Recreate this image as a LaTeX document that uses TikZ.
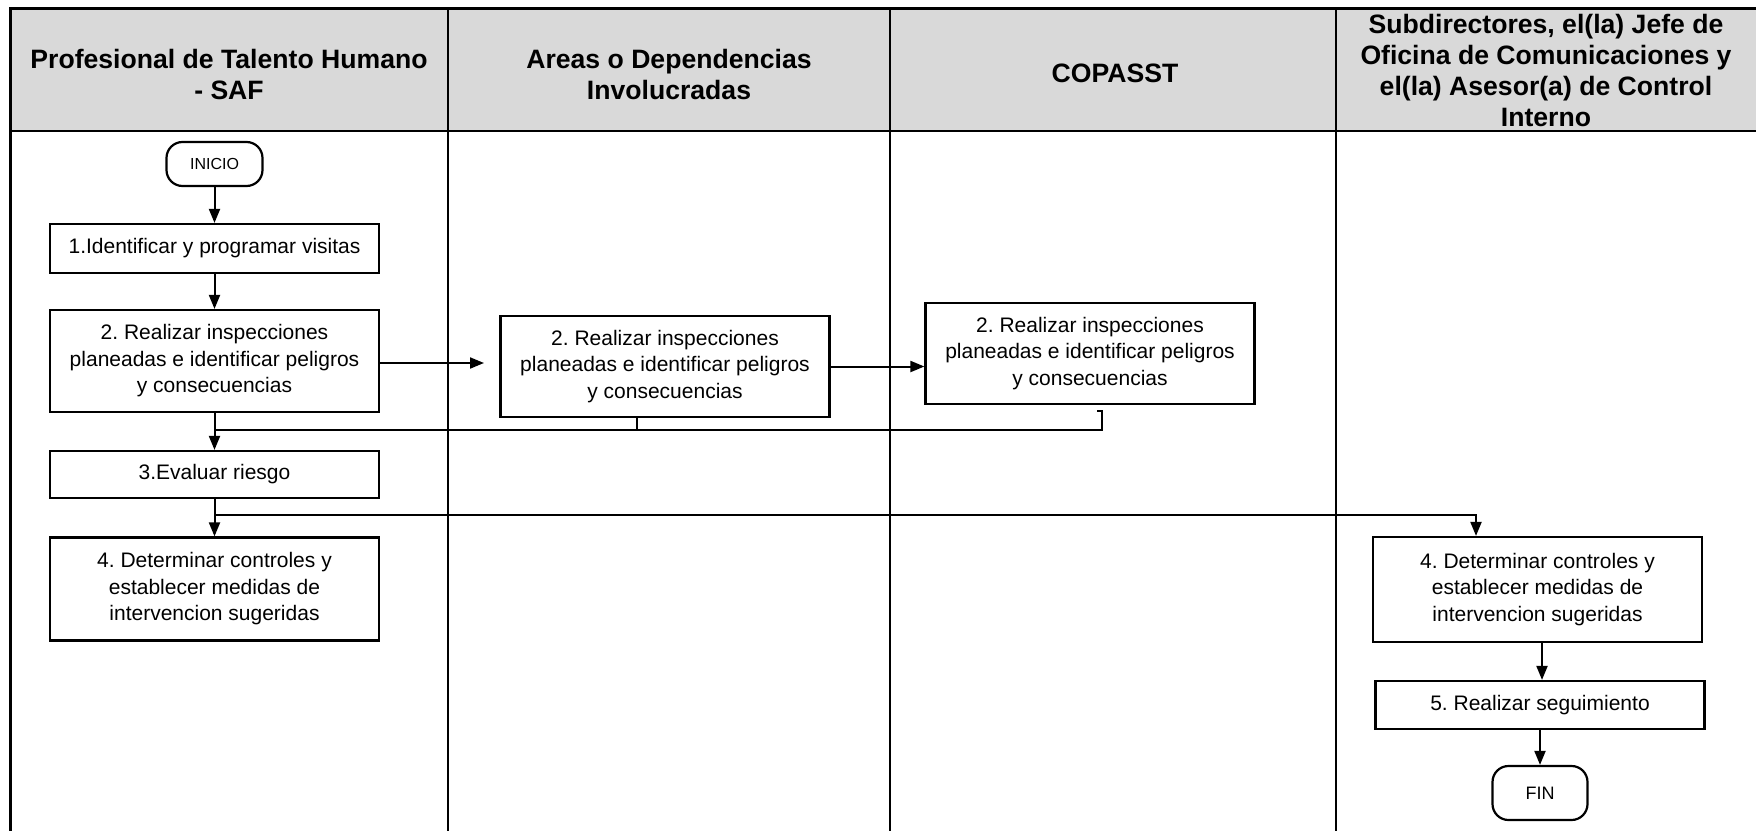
\documentclass[tikz,border=0pt]{standalone}
\usepackage{fontspec}
\setmainfont{Liberation Sans}
\usetikzlibrary{arrows.meta}
\newcommand\hdrfnt{\bfseries\fontsize{26.6}{31}\selectfont}
\newcommand\boxfnt{\fontsize{21}{26.5}\selectfont}
\definecolor{hdrgray}{RGB}{217,217,217}
\frenchspacing
\begin{document}
\begin{tikzpicture}[x=1pt,y=-1pt,
  lane/.style={line width=2.5pt},
  hdr/.style={align=center,font=\hdrfnt,inner sep=0pt},
  proc/.style={draw=black,line width=2.2pt,fill=white,minimum width=329pt,align=center,inner sep=0pt,font=\boxfnt},
  term/.style={draw=black,line width=2.2pt,fill=white,rounded corners=16pt,inner sep=0pt},
  conn/.style={line width=2pt,-{Triangle[length=14pt,width=11pt]}},
  wire/.style={line width=2pt}]
\useasboundingbox (0,0) rectangle (1756,830);
\clip (0,0) rectangle (1756,830);
% header and lanes
\fill[hdrgray] (10,8) rectangle (1780,131);
\draw[line width=3pt] (10,850) -- (10,8) -- (1780,8);
\draw[lane] (10,131) -- (1780,131);
\draw[lane] (448,8) -- (448,850);
\draw[lane] (890,8) -- (890,850);
\draw[lane] (1336,8) -- (1336,850);
\node[hdr] (h1) at (229,74) {Profesional de Talento Humano\\- SAF};
\node[hdr] (h2) at (669,74) {Areas o Dependencias\\Involucradas};
\node[hdr] (h3) at (1115,73) {COPASST};
\node[hdr] (h4) at (1546,70) {Subdirectores, el(la) Jefe de\\Oficina de Comunicaciones y\\el(la) Asesor(a) de Control\\Interno};
% nodes
\node[term,minimum width=96pt,minimum height=44pt,font=\fontsize{16}{18}\selectfont] (inicio) at (214.5,164) {INICIO};
\node[proc,minimum height=49pt] (n1) at (214.5,248.5) {1.Identificar y programar visitas};
\node[proc,minimum height=102pt] (n2a) at (214.5,361) {2. Realizar inspecciones\\planeadas e identificar peligros\\y consecuencias};
\node[proc,minimum height=101pt] (n2b) at (665,366.5) {2. Realizar inspecciones\\planeadas e identificar peligros\\y consecuencias};
\node[proc,minimum height=101pt] (n2c) at (1090,353.5) {2. Realizar inspecciones\\planeadas e identificar peligros\\y consecuencias};
\node[proc,minimum height=47pt] (n3) at (214.5,474.5) {3.Evaluar riesgo};
\node[proc,minimum height=103pt] (n4a) at (214.5,589) {4. Determinar controles y\\establecer medidas de\\intervencion sugeridas};
\node[proc,minimum height=105pt] (n4b) at (1537.5,589.5) {4. Determinar controles y\\establecer medidas de\\intervencion sugeridas};
\node[proc,minimum height=48pt] (n5) at (1540,705) {5. Realizar seguimiento};
\node[term,minimum width=95pt,minimum height=54pt,font=\fontsize{18}{20}\selectfont] (fin) at (1540,793) {FIN};
% connectors
\draw[conn] (inicio) -- (n1);
\draw[conn] (n1) -- (n2a);
\draw[conn] (n2a) -- (n3);
\draw[conn] (n3) -- (n4a);
\coordinate (a2tip) at (484,363);
\draw[conn] (n2a.east |- a2tip) -- (a2tip);
\draw[conn] (n2b.east) -- (n2b.east -| n2c.west);
\coordinate (b2) at (637,430);
\coordinate (tk) at (1097,411);
\coordinate (bk) at (1102,430);
\draw[wire] (tk) -- (tk -| bk) -- (bk) -- (b2) -- (b2 -| n2a.south);
\draw[wire] (n2b.south -| b2) -- (b2);
\coordinate (t4) at (1476,515);
\draw[conn] (n3.south |- t4) -- (t4) -- (t4 |- n4b.north);
\draw[conn] ([xshift=4.5pt]n4b.south) -- ([xshift=2pt]n5.north);
\draw[conn] (n5) -- (fin);
\end{tikzpicture}
\end{document}
